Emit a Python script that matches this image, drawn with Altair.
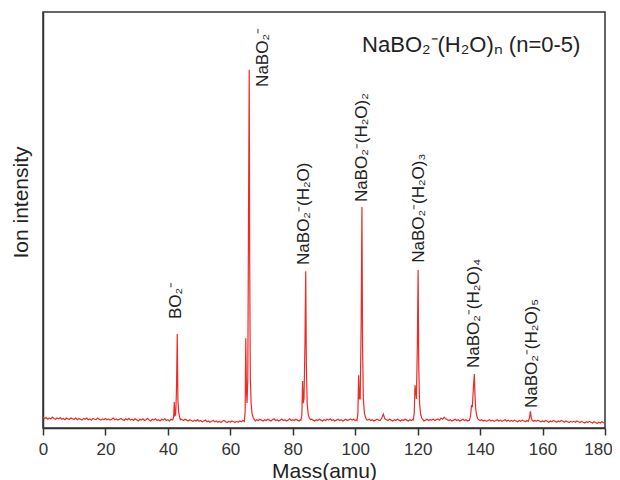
import altair as alt
import pandas as pd

# Baseline (0.5 amu steps, 0 .. 180)
base_int = [
    0.026,0.023,0.025,0.021,0.024,0.022,0.026,0.023,0.021,0.024,0.022,0.025,0.021,0.023,0.020,0.024,0.022,0.021,0.024,0.022,
    0.021,0.024,0.020,0.023,0.021,0.019,0.023,0.021,0.024,0.020,0.022,0.019,0.023,0.021,0.020,0.024,0.021,0.019,0.022,0.020,
    0.023,0.020,0.022,0.019,0.021,0.024,0.020,0.022,0.019,0.021,0.023,0.020,0.018,0.022,0.020,0.023,0.019,0.021,0.018,0.022,
    0.020,0.017,0.021,0.019,0.022,0.018,0.020,0.023,0.019,0.017,0.021,0.019,0.022,0.018,0.020,0.017,0.021,0.019,0.022,0.018,
    0.020,0.017,0.021,0.019,0.020,0.018,0.021,0.019,0.022,0.020,0.018,0.021,0.019,0.017,0.020,0.018,0.016,0.019,0.017,0.020,
    0.016,0.018,0.015,0.017,0.019,0.015,0.017,0.014,0.016,0.018,0.015,0.017,0.014,0.016,0.013,0.016,0.018,0.015,0.013,0.016,
    0.014,0.017,0.015,0.013,0.016,0.014,0.017,0.015,0.018,0.016,0.019,0.017,0.020,0.018,0.021,0.019,0.017,0.020,0.018,0.021,
    0.019,0.017,0.020,0.018,0.021,0.019,0.017,0.020,0.022,0.018,0.020,0.017,0.019,0.021,0.018,0.020,0.017,0.019,0.022,0.018,
    0.020,0.018,0.021,0.019,0.017,0.020,0.018,0.021,0.019,0.022,0.020,0.018,0.021,0.019,0.017,0.020,0.018,0.021,0.019,0.017,
    0.020,0.018,0.021,0.019,0.022,0.018,0.020,0.017,0.019,0.021,0.018,0.020,0.017,0.019,0.021,0.018,0.020,0.022,0.019,0.021,
    0.018,0.020,0.017,0.019,0.021,0.018,0.020,0.017,0.019,0.021,0.018,0.020,0.017,0.019,0.021,0.019,0.018,0.024,0.033,0.022,
    0.020,0.018,0.021,0.019,0.017,0.020,0.018,0.021,0.019,0.017,0.020,0.018,0.021,0.019,0.017,0.020,0.018,0.021,0.019,0.020,
    0.019,0.021,0.018,0.020,0.017,0.019,0.021,0.018,0.020,0.019,0.021,0.018,0.020,0.022,0.019,0.024,0.021,0.026,0.022,0.020,
    0.018,0.020,0.017,0.019,0.021,0.018,0.020,0.017,0.019,0.021,0.018,0.020,0.017,0.019,0.021,0.018,0.020,0.017,0.019,0.021,
    0.018,0.020,0.017,0.019,0.016,0.018,0.020,0.017,0.019,0.016,0.018,0.020,0.017,0.019,0.016,0.018,0.020,0.017,0.019,0.016,
    0.018,0.016,0.019,0.017,0.015,0.018,0.016,0.019,0.017,0.015,0.018,0.016,0.019,0.017,0.015,0.018,0.016,0.019,0.017,0.015,
    0.017,0.015,0.018,0.016,0.014,0.017,0.015,0.018,0.016,0.014,0.017,0.015,0.018,0.016,0.014,0.017,0.015,0.013,0.016,0.014,
    0.016,0.014,0.017,0.015,0.013,0.016,0.014,0.012,0.015,0.013,0.016,0.014,0.012,0.015,0.013,0.011,0.014,0.012,0.015,0.013,
    0.012,
]
base_mass = [i * 0.5 for i in range(len(base_int))]

# Peak profiles (mass, intensity)
peak_mass = [
    [41.6, 41.85, 42.05, 42.25, 42.5, 42.75, 43.0, 43.2, 43.45, 43.7, 43.95],
    [64.5, 64.75, 64.95, 65.15, 65.35, 65.6, 65.85, 66.05, 66.2, 66.4, 66.65, 66.95, 67.3, 67.7],
    [82.6, 82.9, 83.15, 83.35, 83.6, 83.9, 84.15, 84.35, 84.6, 84.95, 85.3, 85.7],
    [100.6, 100.85, 101.1, 101.35, 101.6, 101.9, 102.15, 102.35, 102.6, 102.95, 103.3, 103.7],
    [118.6, 118.9, 119.15, 119.35, 119.6, 119.9, 120.15, 120.35, 120.6, 120.95, 121.3, 121.7],
    [136.6, 136.95, 137.25, 137.5, 137.8, 138.15, 138.35, 138.6, 138.95, 139.3, 139.7],
    [155.4, 155.8, 156.1, 156.4, 156.7, 157.1],
]
peak_int = [
    [0.020, 0.028, 0.0625, 0.030, 0.032, 0.09, 0.226, 0.07, 0.038, 0.028, 0.021],
    [0.016, 0.04, 0.216, 0.09, 0.06, 0.12, 0.55, 0.861, 0.40, 0.12, 0.06, 0.035, 0.026, 0.020],
    [0.019, 0.03, 0.113, 0.06, 0.07, 0.2, 0.377, 0.15, 0.06, 0.032, 0.024, 0.020],
    [0.019, 0.035, 0.127, 0.07, 0.07, 0.25, 0.531, 0.2, 0.07, 0.035, 0.025, 0.020],
    [0.020, 0.035, 0.103, 0.09, 0.07, 0.2, 0.38, 0.15, 0.06, 0.033, 0.024, 0.020],
    [0.019, 0.03, 0.055, 0.05, 0.09, 0.13, 0.08, 0.045, 0.028, 0.022, 0.019],
    [0.016, 0.024, 0.040, 0.024, 0.018, 0.016],
]

# Peak labels
label_text = ["BO₂⁻", "NaBO₂⁻", "NaBO₂⁻(H₂O)", "NaBO₂⁻(H₂O)₂", "NaBO₂⁻(H₂O)₃", "NaBO₂⁻(H₂O)₄", "NaBO₂⁻(H₂O)₅"]
label_mass = [42.6, 70.5, 83.7, 102.2, 120.4, 138.0, 156.6]
label_int = [0.262, 0.82, 0.392, 0.543, 0.397, 0.144, 0.048]

title_text = ["NaBO₂⁻(H₂O)ₙ (n=0-5)"]
title_mass = [102.2]
title_int = [0.904]

# Build spectrum table
rows = []
windows = [(m[0], m[-1]) for m in peak_mass]
for m, v in zip(base_mass, base_int):
    if not any(a <= m <= b for a, b in windows):
        rows.append((m, v))
for ms, vs in zip(peak_mass, peak_int):
    rows.extend(zip(ms, vs))
spec = pd.DataFrame(rows, columns=["mass", "intensity"]).sort_values("mass")

labels = pd.DataFrame({"text": label_text, "mass": label_mass, "intensity": label_int})
ttl = pd.DataFrame({"text": title_text, "mass": title_mass, "intensity": title_int})

FONT = "Liberation Sans"

xscale = alt.Scale(domain=[0, 180], nice=False, zero=False)
yscale = alt.Scale(domain=[0, 1], nice=False)

line = alt.Chart(spec).mark_line(color="#ee2a24", strokeWidth=1.2, interpolate="linear").encode(
    x=alt.X("mass:Q", scale=xscale,
            axis=alt.Axis(title="Mass(amu)", values=list(range(0, 181, 10)),
                          labelExpr="datum.value % 20 === 0 ? datum.label : ''",
                          tickSize={"condition": {"test": "datum.value % 20 === 0", "value": 7}, "value": 4},
                          labelOffset={"condition": {"test": "datum.value === 180", "value": -7}, "value": 0},
                          grid=False, domainColor="#333", domainWidth=1.5,
                          tickColor="#333", tickWidth=1.5, labelFlush=False,
                          labelFontSize=17, labelColor="#333", labelPadding=6, labelFont=FONT,
                          titleFontSize=21, titleFontWeight="normal", titleColor="#222",
                          titleFont=FONT, titlePadding=3)),
    y=alt.Y("intensity:Q", scale=yscale,
            axis=alt.Axis(title="Ion intensity", ticks=False, labels=False, grid=False,
                          domainColor="#333", domainWidth=1.5,
                          titleFontSize=21, titleFontWeight="normal", titleColor="#222",
                          titleFont=FONT, titleX=-12, titleY=190)),
)

text = alt.Chart(labels).mark_text(angle=270, align="left", baseline="middle",
                                   fontSize=17, font=FONT, color="#222").encode(
    x="mass:Q", y="intensity:Q", text="text:N")

title = alt.Chart(ttl).mark_text(align="left", baseline="alphabetic",
                                 fontSize=22, font=FONT, color="#222").encode(
    x="mass:Q", y="intensity:Q", text="text:N")

chart = alt.layer(line, text, title).properties(
    width=562, height=416,
    autosize=alt.AutoSizeParams(type="none"),
    padding={"left": 35, "top": 4, "right": 7, "bottom": 52},
).configure_view(stroke="#333", strokeWidth=1.5)

chart.save("out.html", embed_options={"renderer": "svg", "actions": False})
